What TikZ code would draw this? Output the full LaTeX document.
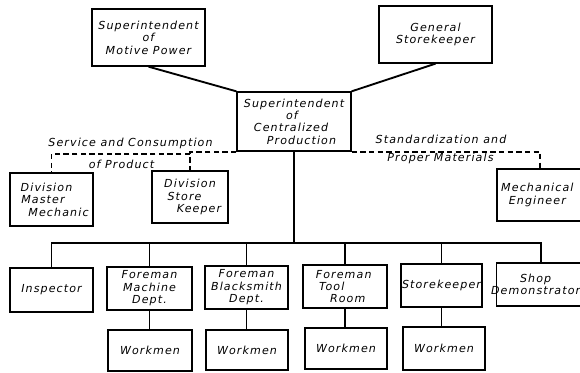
\documentclass[tikz,border=0pt]{standalone}
\usepackage{fontspec}
\newfontfamily\lettering{DejaVu Sans}[LetterSpace=10]
\tikzset{every picture/.style={line width=0.75pt}}
\tikzset{
  post/.style={draw, line width=1pt, inner sep=0pt, align=center,
    font=\lettering\itshape\fontsize{8.3}{9.3}\selectfont},
  boxsize/.style 2 args={minimum width=#1*0.75pt, minimum height=#2*0.75pt},
  caption/.style={inner sep=0.75pt, font=\lettering\itshape\fontsize{8.3}{9.3}\selectfont},
  link/.style={line width=1.4pt},
  staffline/.style={line width=1.3pt, dash pattern=on 4pt off 2.5pt},
}
% shift one line of lettering sideways
\newcommand{\nudge}[2]{\hbox{\kern#1\relax#2\kern-#1\relax}}

\begin{document}
\begin{tikzpicture}[x=0.75pt,y=0.75pt,yscale=-1,xscale=1]
\useasboundingbox (0,0) rectangle (580,373);
\clip (0,0) rectangle (580,373);

%Shape: top row
\node [post, boxsize={113}{57}] (motive) at (148.5,37.5) {Superintendent\\of\\Motive Power};
\node [post, boxsize={113}{57}] (genstore) at (435.5,34.5) {General\\Storekeeper};
\node [post, boxsize={114}{59}] (central) at (294,121.5) {Superintendent\\\nudge{-1.5pt}{of}\\\nudge{-2.25pt}{Centralized}\\\nudge{5.6pt}{Production}};

%Shape: staff row
\node [post, boxsize={83}{53}] (divmaster) at (51.5,199.5) {\nudge{-3.75pt}{Division}\\\nudge{-6.4pt}{Master}\\\nudge{5.25pt}{Mechanic}};
\node [post, boxsize={76}{52}] (divstore) at (190,197) {Division\\\nudge{-4.1pt}{Store}\\\nudge{6.75pt}{Keeper}};
\node [post, boxsize={86}{52}] (mecheng) at (540,195) {\nudge{-2pt}{Mechanical}\\\nudge{-2pt}{Engineer}};

%Shape: foremen row
\node [post, boxsize={83}{44}] (inspector) at (51.5,290) {Inspector};
\node [post, boxsize={85}{43}] (machine) at (149.5,288.5) {Foreman\\Machine\\Dept.};
\node [post, boxsize={83}{43}] (smith) at (246.5,287.5) {Foreman\\Blacksmith\\Dept.};
\node [post, boxsize={84}{43}] (toolroom) at (345,286.5) {\nudge{-1pt}{Foreman}\\\nudge{-10pt}{Tool}\\\nudge{2pt}{Room}};
\node [post, boxsize={81}{43}] (storekpr) at (441.5,285.5) {Storekeeper};
\node [post, boxsize={84}{43}] (shopdem) at (541,284.5) {\nudge{-4pt}{Shop}\\\nudge{-4pt}{Demonstrator}};

%Shape: workmen row
\node [post, boxsize={84}{41}] (workA) at (150,350.5) {Workmen};
\node [post, boxsize={82}{40}] (workB) at (247,350) {Workmen};
\node [post, boxsize={82}{41}] (workC) at (346,348.5) {Workmen};
\node [post, boxsize={82}{43}] (workD) at (444,348.5) {Workmen};

% Text Node
\node [caption] (service) at (130.5,143) {Service and Consumption};
\node [caption] (product) at (121.5,164) {of Product};
\node [caption] (standard) at (441,139) {Standardization and};
\node [caption] (proper) at (440.5,158) {Proper Materials};

%Straight Lines
\draw [link] (motive.south) -- (central.north west);
\draw [link] (genstore.south) -- (central.north east);
\coordinate (bus) at (central.south |- 0,243);
\draw [link] (central.south) -- (bus);
\draw [link] (inspector.north) |- (bus) -| (shopdem.north);
\foreach \n in {machine,smith,toolroom,storekpr}
  \draw [link] (\n.north) -- (\n.north |- bus);
\draw [link] (machine.south) -- (machine.south |- workA.north);
\draw [link] (smith.south) -- (smith.south |- workB.north);
\draw [link] (toolroom.south) -- (toolroom.south |- workC.north);
\draw [link] (storekpr.south) -- (storekpr.south |- workD.north);

%Dashed Lines
\coordinate (step) at (divstore.north |- 0,154);
\draw [staffline] (central.south west) -| (divstore.north);
\draw [staffline] (step) -| (divmaster.north);
\draw [staffline] (central.south east) -| (mecheng.north);

\end{tikzpicture}
\end{document}
